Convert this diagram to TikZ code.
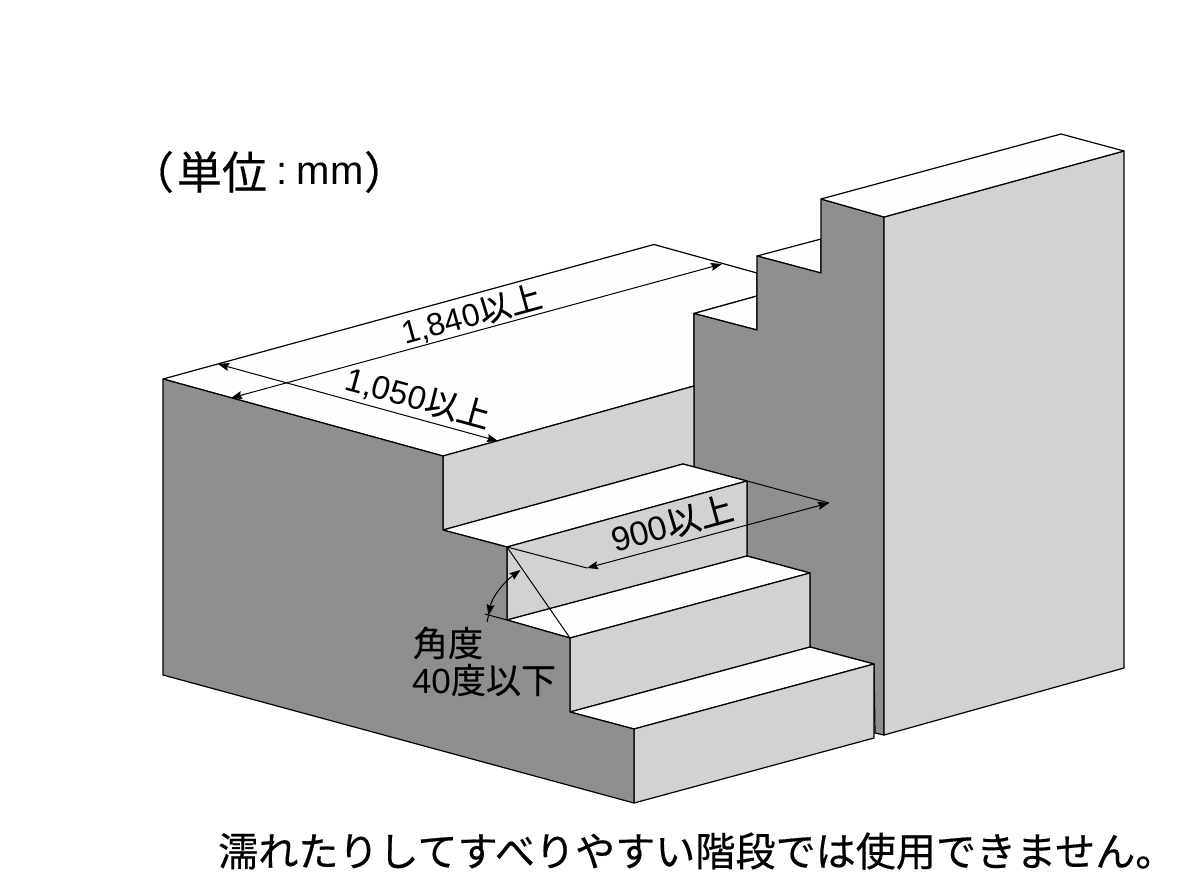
\documentclass[tikz,border=0pt]{standalone}
\usepackage{fontspec}
\usetikzlibrary{arrows.meta}
\setmainfont{Liberation Sans}
\newfontfamily\jp[FakeBold=0.4]{Noto Sans CJK JP}
\definecolor{darkface}{gray}{0.56}
\definecolor{lightface}{gray}{0.825}
\definecolor{topface}{gray}{0.995}
\tikzset{
  face/.style={draw=black,line width=1.2pt,line join=round},
  dk/.style={face,fill=darkface},
  lt/.style={face,fill=lightface},
  tp/.style={face,fill=topface},
  dim/.style={draw=black,line width=1pt},
  dimarrow/.style={dim,{Stealth[length=11pt,width=8pt,inset=1.5pt]}-{Stealth[length=11pt,width=8pt,inset=1.5pt]}},
  lab/.style={inner sep=0pt,font=\fontsize{33}{33}\selectfont},
  lab2/.style={inner sep=0pt,font=\fontsize{35}{35}\selectfont}
}
\newcommand{\K}[1]{{\jp #1}}
\begin{document}
\begin{tikzpicture}[x=1pt,y=-1pt]
\useasboundingbox (0,0) rectangle (1200,881);
\fill[white] (0,0) rectangle (1200,881);
% key points
\coordinate (a) at (163,379);
\coordinate (b) at (654,244.5);
\coordinate (c) at (757,273);
\coordinate (d) at (443,456);
\coordinate (e) at (694,386);
\coordinate (f) at (443,530);
\coordinate (g) at (507,547);
\coordinate (h) at (507,620);
\coordinate (i) at (570,638);
\coordinate (j) at (570,712);
\coordinate (k) at (634,729);
\coordinate (l) at (634,803);
\coordinate (m) at (163,675);
\coordinate (n) at (683,464);
\coordinate (o) at (694,467);
\coordinate (p) at (747,481);
\coordinate (q) at (747,556);
\coordinate (r) at (810,573);
\coordinate (s) at (810,647);
\coordinate (t) at (874,664);
\coordinate (u) at (874,738);
\coordinate (v) at (694,313.5);
\coordinate (w) at (757,330);
\coordinate (x1) at (757,256);
\coordinate (y1) at (821,273);
\coordinate (z) at (821,199);
\coordinate (aa) at (884,217);
\coordinate (bb) at (884,735);
\coordinate (cc) at (1124,151);
\coordinate (dd) at (1124,668);
\coordinate (ee) at (1061,134);
\coordinate (ff) at (757,296);
\coordinate (gg) at (821,239);
\coordinate (hh) at (875,733);
% surfaces
\path[tp] (a) -- (b) -- (c) -- (ff) -- (v) -- (e) -- (d) -- cycle;
\path[tp] (v) -- (ff) -- (w) -- cycle;
\path[tp] (x1) -- (gg) -- (y1) -- cycle;
\path[dk] (v) -- (w) -- (x1) -- (y1) -- (z) -- (aa) -- (bb) -- (hh) -- (t) -- (s) -- (r) -- (q) -- (p) -- (o) -- cycle;
\path[lt] (aa) -- (cc) -- (dd) -- (bb) -- cycle;
\path[tp] (z) -- (ee) -- (cc) -- (aa) -- cycle;
\path[lt] (d) -- (e) -- (o) -- (n) -- (f) -- cycle;
\path[tp] (f) -- (n) -- (p) -- (g) -- cycle;
\path[lt] (g) -- (p) -- (q) -- (h) -- cycle;
\path[tp] (h) -- (q) -- (r) -- (i) -- cycle;
\path[lt] (i) -- (r) -- (s) -- (j) -- cycle;
\path[tp] (j) -- (s) -- (t) -- (k) -- cycle;
\path[lt] (k) -- (t) -- (u) -- (l) -- cycle;
\path[dk] (a) -- (d) -- (f) -- (g) -- (h) -- (i) -- (j) -- (k) -- (l) -- (m) -- cycle;
% dimensions
\coordinate (A1) at (218,364);
\coordinate (A2) at (498,441);
\coordinate (B1) at (231,398);
\coordinate (B2) at (722,264);
\coordinate (C1) at (587,568);
\coordinate (C2) at (829,503);
\coordinate (D1) at (520.5,570);
\coordinate (D2) at (488.5,615.5);
\coordinate (D3) at (487,622);
\coordinate (E1) at (485,614);
\draw[dimarrow] (A1) -- (A2);
\draw[dimarrow] (B1) -- (B2);
\draw[dim] (p) -- (C2);
\draw[dim] (g) -- (C1);
\draw[dimarrow] (C1) -- (C2);
\draw[dim] (g) -- (i);
\draw[dim] (h) -- (E1);
\draw[dim] (D2) -- (D3);
\draw[dimarrow] (D1) .. controls (503.4,582.6) and (492,597) .. (D2);
% labels
\node[inner sep=0pt,rotate=15.4,font=\fontsize{32}{32}\selectfont] (t1) at (471.5,315) {1,840\K{以上}};
\node[lab,rotate=-15.4] (t2) at (418,398) {1,050\K{以上}};
\node[inner sep=0pt,rotate=15.4,font=\fontsize{34}{34}\selectfont] (t3) at (672,523.5) {900\K{以上}};
\node[lab2] (t4) at (448,643) {\K{角度}};
\node[lab2] (t5) at (484,680) {40\K{度以下}};
\node[inner sep=0pt,font=\fontsize{44}{44}\selectfont] (t6a) at (152,172) {\K{（}};
\node[inner sep=0pt,font=\fontsize{45}{45}\selectfont] (t6b) at (222,172) {\K{単位}};
\node[inner sep=0pt,font=\fontsize{40}{40}\selectfont] (t6c) at (282,174) {:};
\node[inner sep=0pt,font=\fontsize{40}{40}\selectfont] (t6d) at (330,174) {mm};
\node[inner sep=0pt,font=\fontsize{44}{44}\selectfont] (t6e) at (386,172) {\K{）}};
\node[inner sep=0pt,anchor=west,font=\fontsize{40.1}{40}\selectfont] (t7) at (218,851) {\K{濡れたりしてすべりやすい階段では使用できません。}};
\end{tikzpicture}
\end{document}
